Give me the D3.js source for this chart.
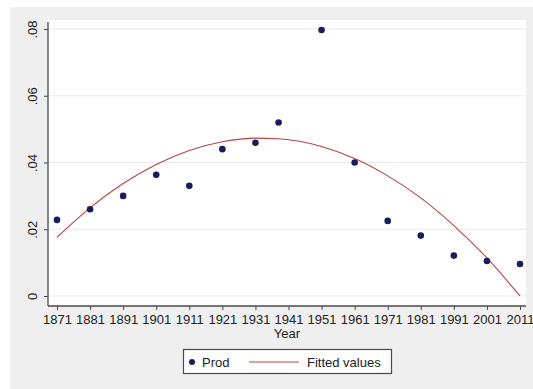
<!DOCTYPE html>
<html><head><meta charset="utf-8">
<script src="https://cdn.jsdelivr.net/npm/d3@7"></script>
<style>html,body{margin:0;padding:0;background:#fff;}svg{display:block;}</style>
</head><body>
<svg id="c" width="533" height="389"></svg>
<script>
const years = [1871,1881,1891,1901,1911,1921,1931,1938,1951,1961,1971,1981,1991,2001,2011];
const prod = [0.0228,0.0260,0.0300,0.0363,0.0330,0.0440,0.0459,0.0520,0.0797,0.0400,0.0225,0.0181,0.0121,0.0105,0.0096];
const fitted = [0.0176,0.0264,0.0337,0.0394,0.0436,0.0462,0.0473,0.0471,0.0448,0.0412,0.0360,0.0294,0.0211,0.0114,0.0000];
const xTicks = [1871,1881,1891,1901,1911,1921,1931,1941,1951,1961,1971,1981,1991,2001,2011];
const yTicks = [0,0.02,0.04,0.06,0.08];
const yTickLabels = ["0",".02",".04",".06",".08"];
const legendLabels = ["Prod","Fitted values"];

const svg = d3.select("#c");
const font = "'Liberation Sans', Arial, sans-serif";
const dotColor = "#1c1c5c", lineColor = "#b8443f", axisColor = "#4a4a4a";

// background
svg.append("rect").attr("x",10).attr("y",7).attr("width",523).attr("height",382).attr("fill","#efefef");
const pl = 48, pr = 526, pt = 20, pb = 306;
svg.append("rect").attr("x",pl).attr("y",pt).attr("width",pr-pl).attr("height",pb-pt).attr("fill","#fff");

const x = d3.scaleLinear().domain([1871,2011]).range([57,520]);
const y = d3.scaleLinear().domain([0,0.08]).range([296,29]);

// grid
svg.append("g").selectAll("line").data(yTicks).join("line")
  .attr("x1",pl).attr("x2",pr).attr("y1",d=>y(d)).attr("y2",d=>y(d))
  .attr("stroke","#eaeaea").attr("stroke-width",1);

// y axis
const yAxis = svg.append("g").attr("transform",`translate(${pl},0)`)
  .call(d3.axisLeft(y).tickValues(yTicks).tickSize(4).tickPadding(6).tickFormat((d,i)=>yTickLabels[i]));
yAxis.select(".domain").attr("d",`M0,${pt+2}V${pb}`).attr("stroke",axisColor).attr("stroke-width",1.3);
yAxis.selectAll(".tick line").attr("stroke",axisColor);
yAxis.selectAll(".tick text").attr("font-family",font).attr("font-size",13).attr("fill","#222")
  .attr("text-anchor","middle").attr("dy",null)
  .attr("transform","rotate(-90)").attr("x",0).attr("y",-11);

// x axis
const xAxis = svg.append("g").attr("transform",`translate(0,${pb})`)
  .call(d3.axisBottom(x).tickValues(xTicks).tickSize(4).tickPadding(5).tickFormat(d3.format("d")));
xAxis.select(".domain").attr("d",`M${pl},0H${pr}`).attr("stroke",axisColor).attr("stroke-width",1.3);
xAxis.selectAll(".tick line").attr("stroke",axisColor);
xAxis.selectAll(".tick text").attr("font-family",font).attr("font-size",13).attr("fill","#222");

svg.append("text").attr("x",(pl+pr)/2).attr("y",338).attr("text-anchor","middle")
  .attr("font-family",font).attr("font-size",13).attr("fill","#222").text("Year");

// fitted line
const data = years.map((yr,i)=>({yr, p:prod[i], f:fitted[i]}));
svg.append("path").datum(data)
  .attr("d",d3.line().x(d=>x(d.yr)).y(d=>y(d.f)).curve(d3.curveMonotoneX))
  .attr("fill","none").attr("stroke",lineColor).attr("stroke-width",1.1);

// points
svg.append("g").selectAll("circle").data(data).join("circle")
  .attr("cx",d=>x(d.yr)).attr("cy",d=>y(d.p)).attr("r",3.3).attr("fill",dotColor);

// legend
const lg = svg.append("g");
lg.append("rect").attr("x",183.5).attr("y",349.5).attr("width",208).attr("height",24)
  .attr("fill","#fff").attr("stroke",axisColor).attr("stroke-width",1.2);
lg.append("circle").attr("cx",192).attr("cy",362).attr("r",3).attr("fill",dotColor);
lg.append("text").attr("x",202).attr("y",366.5).attr("font-family",font).attr("font-size",13).attr("fill","#222").text(legendLabels[0]);
lg.append("line").attr("x1",249).attr("x2",299).attr("y1",362).attr("y2",362).attr("stroke",lineColor).attr("stroke-width",1.1);
lg.append("text").attr("x",307).attr("y",366.5).attr("font-family",font).attr("font-size",13).attr("fill","#222").text(legendLabels[1]);
</script>
</body></html>
